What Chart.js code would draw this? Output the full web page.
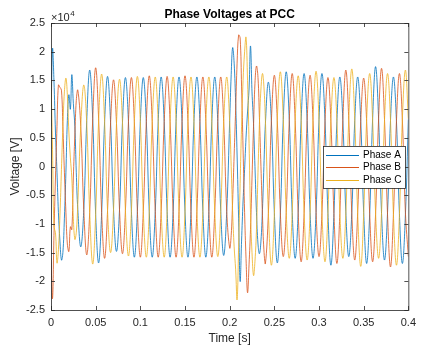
<!DOCTYPE html>
<html>
<head>
<meta charset="utf-8">
<script src="https://cdn.jsdelivr.net/npm/chart.js@4"></script>
<style>
  html, body { margin: 0; padding: 0; background: #fff; }
  canvas { display: block; }
</style>
</head>
<body>
<canvas id="chart" width="422" height="352"></canvas>
<script>
// ============================
// Data (time in ms, voltage in V)
// ============================
const timeMs = [
    // start-up transient
    0, 1.7, 3.3, 5, 6.7, 8.3, 10, 11.7, 13.3, 15, 16.7, 18.3, 20, 21.7, 23.3, 25, 26.7, 28.3, 30,
    // pre-fault
    33.3, 36.7,
    40, 43.3, 46.7, 50, 53.3, 56.7,
    60, 63.3, 66.7, 70, 73.3, 76.7,
    80, 83.3, 86.7, 90, 93.3, 96.7,
    100, 103.3, 106.7, 110, 113.3, 116.7,
    120, 123.3, 126.7, 130, 133.3, 136.7,
    140, 143.3, 146.7, 150, 153.3, 156.7,
    160, 163.3, 166.7, 170, 173.3, 176.7,
    180, 183.3, 186.7, 190, 193.3, 196.7,
    // fault
    200, 201.7, 203.3, 205, 206.7, 208.3, 210, 211.7, 213.3, 215, 216.7, 218.3, 220,
    221.7, 223.3, 225, 226.7, 228.3, 230, 231.7, 233.3, 235, 236.7, 238.3, 240,
    // post-fault
    243.3, 246.7, 250, 253.3, 256.7,
    260, 263.3, 266.7, 270, 273.3, 276.7,
    280, 283.3, 286.7, 290, 293.3, 296.7,
    300, 303.3, 306.7, 310, 313.3, 316.7,
    320, 323.3, 326.7, 330, 333.3, 336.7,
    340, 343.3, 346.7, 350, 353.3, 356.7,
    360, 363.3, 366.7, 370, 373.3, 376.7,
    380, 383.3, 386.7, 390, 393.3, 396.7,
    400
];

const phaseA = [
    7000, 20500, 15000, 6000, -1000, -8000, -13000, -16300, -15000, -9000, -1000, 8000, 12500, 10000, 16000, 11000, 7000, -1000, -7500,
    -14000, -7500,
    8000, 16800, 8300, -8400, -16800, -8000,
    7800, 15700, 7600, -7500, -14800, -7500,
    7700, 15500, 7800, -7800, -15800, -7800,
    7800, 15500, 7800, -7900, -15800, -7800,
    7800, 15600, 7800, -7800, -15800, -7800,
    7800, 15600, 7800, -7900, -15800, -7800,
    7800, 15600, 7800, -7800, -15800, -7800,
    7800, 15600, 7800, -7800, -15500, -7800,
    8000, 16000, 20700, 18000, 11000, 2000, -9000, -20000, -13000, -6000, -500, 5000, 9500,
    13500, 21000, 13000, 7500, 0, -8000, -13500, -15200, -13000, -7500, 0, 7500,
    14700, 7800, -8000, -16800, -8300,
    8200, 16500, 8200, -8000, -16000, -8000,
    8000, 16200, 8000, -8000, -16000, -8000,
    8200, 16200, 8000, -8200, -17200, -8200,
    7800, 15600, 8000, -7900, -15700, -8000,
    8000, 15600, 7900, -8000, -16900, -8300,
    8300, 17400, 8300, -8200, -16300, -8000,
    8000, 15600, 7800, -8200, -16900, -8400,
    8200
];

const phaseB = [
    -16000, -23000, -12000, -2000, 7000, 14200, 13800, 13300, 7000, -1000, -8000, -13500, -14800, -10500, -11000, -2000, 5500, 11500, 13300,
    7000, -7500,
    -15400, -8000, 8300, 17200, 8300, -8000,
    -16000, -7700, 7600, 15100, 7500, -7600,
    -15200, -7700, 7800, 15500, 7800, -7800,
    -15800, -7800, 7800, 15800, 7800, -7800,
    -15800, -7800, 7800, 15700, 7800, -7800,
    -15800, -7800, 7800, 15800, 7800, -7800,
    -15800, -7800, 7800, 15600, 7800, -7800,
    -15800, -7800, 7800, 15600, 7800, -7800,
    -14200, -12000, -6000, 2000, 10000, 18000, 22900, 22400, 14000, 3000, -8000, -16000, -22000,
    -17000, -11000, -2000, 7000, 14500, 17500, 15500, 8500, 0, -8500, -14500, -16900,
    -8200, 8000, 15900, 8000, -8000,
    -15700, -8000, 8000, 16200, 8000, -8200,
    -16600, -8200, 8000, 15900, 8000, -8000,
    -15700, -8000, 7800, 15500, 7800, -8200,
    -16900, -8200, 8200, 16800, 8200, -8200,
    -16300, -8000, 7900, 15400, 7800, -8200,
    -16600, -8300, 8300, 17100, 8200, -8400,
    -17500, -8400, 8000, 16200, 8100, -8000,
    -15700
];

const phaseC = [
    15000, 3000, -10500, -11500, -16800, -14500, -8500, -500, 7000, 13000, 15400, 12500, 6000, 1500, -2000, -9000, -12700, -11500, -6500,
    7000, 14200,
    7500, -8000, -17000, -8300, 8000, 16100,
    7800, -7700, -15000, -7500, 7500, 15200,
    7700, -7700, -15600, -7800, 7800, 15700,
    7800, -7800, -15800, -7900, 7800, 15600,
    7800, -7800, -15800, -7800, 7800, 15600,
    7800, -7800, -15800, -7900, 7800, 15600,
    7800, -7800, -15800, -7800, 7800, 15600,
    7800, -7800, -15700, -7800, 7800, 15600,
    7800, 0, -8000, -14000, -18000, -23200, -14000, -3000, 7000, 15000, 20000, 22500, 15000,
    4000, -8000, -15000, -19000, -16500, -11000, -1000, 7500, 13500, 16200, 14000, 8000,
    -8000, -17200, -8300, 8200, 16500,
    8200, -8000, -16000, -8000, 8000, 15800,
    8000, -8000, -16300, -8100, 8200, 16600,
    8000, -8200, -16600, -8000, 8000, 15500,
    8000, -8000, -16000, -8200, 8300, 17000,
    8200, -8300, -17400, -8200, 8100, 16200,
    8100, -8000, -16000, -8000, 8000, 16200,
    8100, -8400, -17200, -8400, 8300, 16800,
    8300
];

const seriesNames  = ['Phase A', 'Phase B', 'Phase C'];
const seriesColors = ['#0072BD', '#D95319', '#EDB120'];

const xTickStep = 0.05;
const yTickStep = 5000;
const yExponent = 4;

// ============================
// Helpers
// ============================
const FONT = '"Liberation Sans", Arial, Helvetica, sans-serif';
const AXIS_COLOR = '#262626';

function toPoints(values) {
    return timeMs.map((t, i) => ({ x: t / 1000, y: values[i] }));
}

// MATLAB-ish decorations: box, inward ticks, title, labels, legend
const matlabDecor = {
    id: 'matlabDecor',
    afterDraw(chart) {
        const { ctx, chartArea: a, scales } = chart;
        const tl = 4;
        ctx.save();

        // box
        ctx.strokeStyle = AXIS_COLOR;
        ctx.lineWidth = 0.8;
        ctx.strokeRect(a.left + 0.5, a.top + 0.5, a.right - a.left, a.bottom - a.top);

        // inward ticks
        ctx.beginPath();
        scales.x.ticks.forEach(t => {
            const px = Math.round(scales.x.getPixelForValue(t.value)) + 0.5;
            ctx.moveTo(px, a.bottom); ctx.lineTo(px, a.bottom - tl);
            ctx.moveTo(px, a.top);    ctx.lineTo(px, a.top + tl);
        });
        scales.y.ticks.forEach(t => {
            const py = Math.round(scales.y.getPixelForValue(t.value)) + 0.5;
            ctx.moveTo(a.left, py);  ctx.lineTo(a.left + tl, py);
            ctx.moveTo(a.right, py); ctx.lineTo(a.right - tl, py);
        });
        ctx.stroke();

        // title
        ctx.fillStyle = '#000';
        ctx.font = 'bold 12px ' + FONT;
        ctx.textAlign = 'center';
        ctx.textBaseline = 'middle';
        ctx.fillText('Phase Voltages at PCC', (a.left + a.right) / 2, 14.5);

        // exponent label
        ctx.fillStyle = AXIS_COLOR;
        ctx.textAlign = 'left';
        ctx.textBaseline = 'alphabetic';
        ctx.font = '11px ' + FONT;
        ctx.fillText('\u00d710', a.left, 21);
        const w = ctx.measureText('\u00d710').width;
        ctx.font = '8px ' + FONT;
        ctx.fillText(String(yExponent), a.left + w + 0.5, 16);

        // axis titles
        ctx.font = '12px ' + FONT;
        ctx.textAlign = 'center';
        ctx.textBaseline = 'middle';
        ctx.fillText('Time [s]', (a.left + a.right) / 2, 339);
        ctx.save();
        ctx.translate(16, (a.top + a.bottom) / 2);
        ctx.rotate(-Math.PI / 2);
        ctx.fillText('Voltage [V]', 0, 0);
        ctx.restore();

        // legend
        const lx = 323, ly = 146, lw = 82, lh = 42;
        ctx.fillStyle = '#fff';
        ctx.fillRect(lx, ly, lw, lh);
        ctx.strokeStyle = AXIS_COLOR;
        ctx.lineWidth = 0.8;
        ctx.strokeRect(lx + 0.5, ly + 0.5, lw, lh);
        ctx.font = '10px ' + FONT;
        ctx.textAlign = 'left';
        chart.data.datasets.forEach((ds, i) => {
            const y = ly + 8.5 + i * 12.5;
            ctx.strokeStyle = ds.borderColor;
            ctx.lineWidth = 1;
            ctx.beginPath();
            ctx.moveTo(lx + 3, Math.round(y) + 0.5);
            ctx.lineTo(lx + 36, Math.round(y) + 0.5);
            ctx.stroke();
            ctx.fillStyle = '#000';
            ctx.fillText(ds.label, lx + 40, y + 0.5);
        });

        ctx.restore();
    }
};

// ============================
// Chart
// ============================
const ctx = document.getElementById('chart').getContext('2d');

new Chart(ctx, {
    type: 'line',
    data: {
        datasets: seriesNames.map((name, i) => ({
            label: name,
            data: toPoints([phaseA, phaseB, phaseC][i]),
            borderColor: seriesColors[i],
            borderWidth: 0.8,
            pointRadius: 0,
            tension: 0.4,
            fill: false,
            order: 3 - i
        }))
    },
    options: {
        responsive: false,
        animation: false,
        devicePixelRatio: 1,
        layout: { padding: { top: 23, right: 8, bottom: 0, left: 0 } },
        plugins: {
            legend: { display: false },
            tooltip: { enabled: false },
            title: { display: false }
        },
        scales: {
            x: {
                type: 'linear',
                min: 0,
                max: 0.4,
                grid: { display: false, drawTicks: false },
                border: { display: false },
                ticks: {
                    stepSize: xTickStep,
                    autoSkip: false,
                    maxRotation: 0,
                    padding: 6,
                    color: AXIS_COLOR,
                    font: { family: FONT, size: 11 },
                    callback: v => String(Number(v.toFixed(2)))
                },
                afterFit: s => { s.height = 42; }
            },
            y: {
                type: 'linear',
                min: -25000,
                max: 25000,
                grid: { display: false, drawTicks: false },
                border: { display: false },
                ticks: {
                    stepSize: yTickStep,
                    autoSkip: false,
                    padding: 6,
                    color: AXIS_COLOR,
                    font: { family: FONT, size: 11 },
                    callback: v => String(Number((v / Math.pow(10, yExponent)).toFixed(1)))
                },
                afterFit: s => { s.width = 51; }
            }
        }
    },
    plugins: [matlabDecor]
});
</script>
</body>
</html>
